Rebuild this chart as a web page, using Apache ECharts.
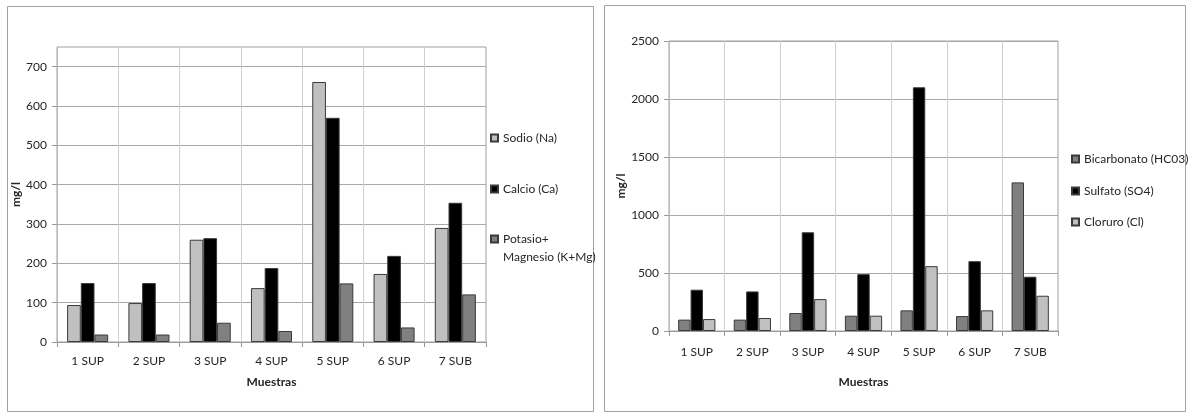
<!DOCTYPE html>
<html>
<head>
<meta charset="utf-8">
<script src="https://cdn.jsdelivr.net/npm/echarts@6/dist/echarts.min.js"></script>
<style>
  html, body { margin: 0; padding: 0; background: #fff; }
  #chart { width: 1189px; height: 413px; }
</style>
</head>
<body>
<div id="chart"></div>
<script>
// muestras
const categories = ["1 SUP", "2 SUP", "3 SUP", "4 SUP", "5 SUP", "6 SUP", "7 SUB"];

// cationes (mg/l)
const sodio = [94, 99, 260, 137, 661, 173, 290];
const calcio = [150, 150, 264, 188, 570, 219, 354];
const potasioMagnesio = [19, 19, 49, 28, 149, 37, 121];

// aniones (mg/l)
const bicarbonato = [98, 98, 155, 132, 178, 129, 1281];
const sulfato = [356, 341, 851, 490, 2101, 602, 468];
const cloruro = [103, 112, 275, 132, 559, 178, 304];

const yTicksLeft = [0, 100, 200, 300, 400, 500, 600, 700];
const yTicksRight = [0, 500, 1000, 1500, 2000, 2500];

const FONT = "Lato, 'Liberation Sans', sans-serif";
const TEXT = "#262626";
const LIGHT = "#c0c0c0", BLACK = "#000000", DARK = "#808080";

function xAxis(gridIndex, labelMargin, nameGap) {
  return {
    type: "category",
    gridIndex: gridIndex,
    data: categories,
    name: "Muestras",
    nameLocation: "middle",
    nameGap: nameGap,
    nameTextStyle: { fontFamily: FONT, fontSize: 12, fontWeight: "bold", color: TEXT },
    axisLine: { lineStyle: { color: "#999", width: 1 } },
    axisTick: { show: true, length: 5, lineStyle: { color: "#999" } },
    axisLabel: { fontFamily: FONT, fontSize: 12, color: TEXT, margin: labelMargin },
    splitLine: { show: true, lineStyle: { color: "#cfcfcf", width: 1 } },
  };
}

function yAxis(gridIndex, max, interval, ticks, nameGap) {
  return {
    type: "value",
    gridIndex: gridIndex,
    min: 0,
    max: max,
    interval: interval,
    name: "mg/l",
    nameLocation: "middle",
    nameGap: nameGap,
    nameTextStyle: { fontFamily: FONT, fontSize: 12, fontWeight: "bold", color: TEXT },
    axisLine: { show: true, lineStyle: { color: "#bbb", width: 1 } },
    axisTick: { show: true, length: 5, customValues: ticks, lineStyle: { color: "#999" } },
    axisLabel: {
      fontFamily: FONT, fontSize: 12, color: TEXT, margin: 10,
      customValues: ticks,
      formatter: (v) => String(v),
    },
    splitLine: { show: true, lineStyle: { color: "#a8a8a8", width: 1 } },
  };
}

function bar(name, data, color, axisIndex) {
  return {
    type: "bar",
    name: name,
    data: data,
    xAxisIndex: axisIndex,
    yAxisIndex: axisIndex,
    barGap: "0%",
    barCategoryGap: "33%",
    itemStyle: { color: color, borderColor: "#3a3a3a", borderWidth: 1 },
    emphasis: { disabled: true },
  };
}

function legend(name, left, top, text) {
  return {
    data: [name],
    left: left,
    top: top,
    padding: 0,
    orient: "vertical",
    icon: "rect",
    itemWidth: 7,
    itemHeight: 7,
    selectedMode: false,
    formatter: () => text || name,
    textStyle: { fontFamily: FONT, fontSize: 12, color: TEXT, lineHeight: 18 },
  };
}

const chart = echarts.init(document.getElementById("chart"));
chart.setOption({
  animation: false,
  backgroundColor: "#fff",
  graphic: [
    { type: "rect", shape: { x: 7.5, y: 6.5, width: 586, height: 405 }, style: { fill: "none", stroke: "#a0a0a0", lineWidth: 1 }, silent: true },
    { type: "rect", shape: { x: 604.5, y: 5.5, width: 581, height: 406 }, style: { fill: "none", stroke: "#a0a0a0", lineWidth: 1 }, silent: true },
  ],
  grid: [
    { left: 57, top: 47, width: 429, height: 295, show: true, borderColor: "#a0a0a0", borderWidth: 1 },
    { left: 669, top: 41, width: 389, height: 290, show: true, borderColor: "#a0a0a0", borderWidth: 1 },
  ],
  xAxis: [xAxis(0, 13, 34), xAxis(1, 15, 45)],
  yAxis: [yAxis(0, 750, 100, yTicksLeft, 30), yAxis(1, 2500, 500, yTicksRight, 33)],
  legend: [
    legend("Sodio (Na)", 490, 129),
    legend("Calcio (Ca)", 490, 180),
    legend("Potasio+ Magnesio (K+Mg)", 490, 212, "\nPotasio+\nMagnesio (K+Mg)"),
    legend("Bicarbonato (HC03)", 1071, 150),
    legend("Sulfato (SO4)", 1071, 182),
    legend("Cloruro (Cl)", 1071, 213),
  ],
  series: [
    bar("Sodio (Na)", sodio, LIGHT, 0),
    bar("Calcio (Ca)", calcio, BLACK, 0),
    bar("Potasio+ Magnesio (K+Mg)", potasioMagnesio, DARK, 0),
    bar("Bicarbonato (HC03)", bicarbonato, DARK, 1),
    bar("Sulfato (SO4)", sulfato, BLACK, 1),
    bar("Cloruro (Cl)", cloruro, LIGHT, 1),
  ],
});
</script>
</body>
</html>
